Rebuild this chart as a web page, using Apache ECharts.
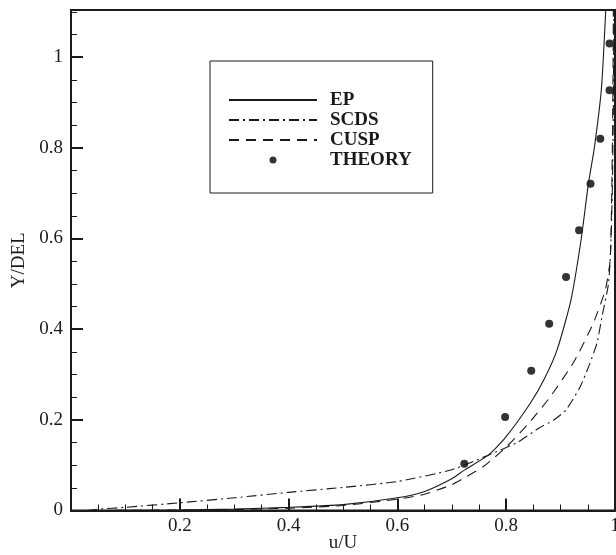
<!DOCTYPE html>
<html>
<head>
<meta charset="utf-8">
<script src="https://cdn.jsdelivr.net/npm/echarts@6/dist/echarts.min.js"></script>
<style>
  html, body { margin: 0; padding: 0; background: #fff; }
  #chart { width: 616px; height: 555px; }
</style>
</head>
<body>
<div id="chart"></div>
<script>
// values
const epData = [[0.05,0],[0.2,0.001],[0.3,0.003],[0.4,0.007],[0.5,0.013],[0.6,0.028],[0.65,0.042],[0.7,0.07],[0.723,0.089],[0.767,0.122],[0.798,0.16],[0.844,0.236],[0.87,0.29],[0.894,0.356],[0.919,0.464],[0.938,0.6],[0.951,0.72],[0.962,0.8],[0.975,0.93],[0.983,1.104]];
const scdsData = [[0.03,0],[0.05,0.003],[0.1,0.007],[0.2,0.017],[0.3,0.028],[0.4,0.04],[0.5,0.051],[0.6,0.064],[0.7,0.09],[0.767,0.122],[0.82,0.15],[0.862,0.183],[0.888,0.2],[0.91,0.222],[0.936,0.273],[0.954,0.325],[0.967,0.37],[0.976,0.427],[0.988,0.5],[0.992,0.574],[0.995,0.7],[0.997,0.9],[0.998,1.104]];
const cuspData = [[0.05,0],[0.2,0.001],[0.3,0.002],[0.4,0.005],[0.5,0.011],[0.6,0.025],[0.65,0.036],[0.7,0.057],[0.723,0.072],[0.758,0.097],[0.801,0.141],[0.844,0.196],[0.881,0.251],[0.924,0.327],[0.96,0.413],[0.982,0.486],[0.991,0.552],[0.994,0.7],[0.996,0.9],[0.997,1.104]];
const theoryData = [[0.723,0.103],[0.798,0.206],[0.846,0.308],[0.879,0.412],[0.910,0.515],[0.934,0.618],[0.955,0.721],[0.973,0.82],[0.990,0.927],[0.990,1.030]];
const xTicks = [0.2, 0.4, 0.6, 0.8, 1];
const yTicks = [0, 0.2, 0.4, 0.6, 0.8, 1];

const FONT = '"Liberation Serif", "DejaVu Serif", serif';
const INK = '#1a1a1a';

const chart = echarts.init(document.getElementById('chart'));

const tickLabel = (ticks) => (v) => ticks.some(t => Math.abs(t - v) < 1e-6) ? String(+v.toFixed(2)) : '';
const noDot = { itemStyle: { opacity: 0 } };

chart.setOption({
  animation: false,
  backgroundColor: '#fff',
  grid: { left: 71, right: 1, top: 10, bottom: 44.5, show: true, borderColor: INK, borderWidth: 2,
    containLabel: false, outerBoundsMode: 'none' },
  legend: {
    left: 210, top: 61, orient: 'vertical',
    padding: [29, 21, 23, 18],
    itemWidth: 88, itemHeight: 7, itemGap: 0,
    borderColor: INK, borderWidth: 1, backgroundColor: '#fff',
    textStyle: { fontFamily: FONT, fontWeight: 'bold', fontSize: 19, color: INK, lineHeight: 20, padding: [0, 0, 0, 8] },
    data: [
      Object.assign({ name: 'EP' }, noDot),
      Object.assign({ name: 'SCDS' }, noDot),
      Object.assign({ name: 'CUSP' }, noDot),
      { name: 'THEORY' }
    ]
  },
  xAxis: {
    type: 'value', min: 0, max: 1, interval: 0.2,
    name: 'u/U', nameLocation: 'middle', nameGap: 23, nameMoveOverlap: false,
    nameTextStyle: { fontFamily: FONT, fontSize: 19, color: INK },
    axisLine: { lineStyle: { color: INK, width: 2 } },
    axisTick: { inside: true, length: 12, lineStyle: { color: INK, width: 2 } },
    minorTick: { show: true, splitNumber: 4, length: 6, lineStyle: { color: INK, width: 1 } },
    splitLine: { show: false },
    axisLabel: { fontFamily: FONT, fontSize: 19, color: INK, margin: 6, formatter: tickLabel(xTicks) }
  },
  yAxis: [{
    type: 'value', min: 0, max: 1.104, interval: 0.2,
    name: 'Y/DEL', nameLocation: 'middle', nameGap: 42, nameMoveOverlap: false,
    nameTextStyle: { fontFamily: FONT, fontSize: 19, color: INK },
    axisLine: { lineStyle: { color: INK, width: 2 } },
    axisTick: { inside: true, length: 12, lineStyle: { color: INK, width: 2 } },
    splitLine: { show: false },
    axisLabel: { fontFamily: FONT, fontSize: 19, color: INK, margin: 8, formatter: tickLabel(yTicks) }
  }, {
    // minor ticks only
    type: 'value', min: 0, max: 1.104, interval: 0.05, position: 'left',
    axisLine: { show: false },
    axisTick: { inside: true, length: 6, lineStyle: { color: INK, width: 1 } },
    splitLine: { show: false },
    axisLabel: { show: false }
  }],
  series: [
    { name: 'EP', type: 'line', data: epData, symbol: 'none', smooth: 0.2,
      lineStyle: { color: INK, width: 1.1, type: 'solid' }, itemStyle: { color: INK } },
    { name: 'SCDS', type: 'line', data: scdsData, symbol: 'none', smooth: 0.2,
      lineStyle: { color: INK, width: 1.1, type: [10, 4, 2, 4] }, itemStyle: { color: INK } },
    { name: 'CUSP', type: 'line', data: cuspData, symbol: 'none', smooth: 0.2,
      lineStyle: { color: INK, width: 1.1, type: [10, 7] }, itemStyle: { color: INK } },
    { name: 'THEORY', type: 'scatter', data: theoryData, symbol: 'circle', symbolSize: 8,
      itemStyle: { color: '#000' } }
  ]
});
</script>
</body>
</html>
